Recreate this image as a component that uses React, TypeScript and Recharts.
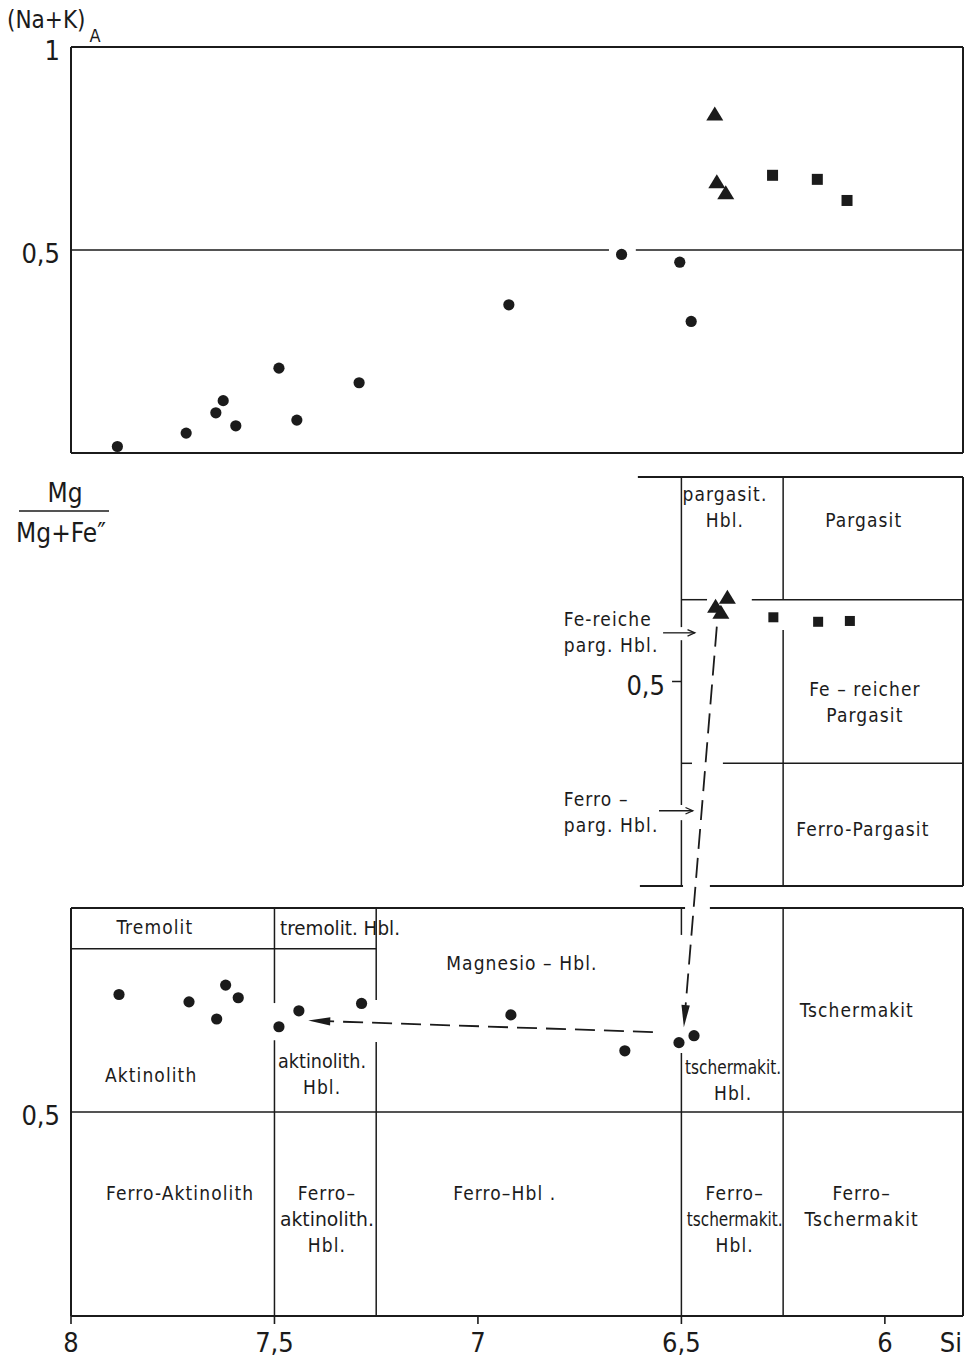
import React from 'react';
import { ScatterChart, Scatter, XAxis, YAxis, ReferenceLine, ReferenceDot } from 'recharts';

const FONT = "'DejaVu Sans Condensed', 'Liberation Sans Narrow', 'DejaVu Sans', sans-serif";
const INK = '#1b1b1b';

// ---- x axis (Si per formula unit) ----
const siTicks = [8, 7.5, 7, 6.5, 6];
const SI_MIN = 5.808;
const SI_MAX = 8;

// ---- y tick labels ----
const topYTicks = [1, 0.5];
const midYTicks = [0.5];
const botYTicks = [0.5];

// ---- top panel: (Na+K)_A ----
const topCircleSi = [7.886, 7.717, 7.644, 7.626, 7.595, 7.489, 7.445, 7.292, 6.924, 6.647, 6.504, 6.476];
const topCircleNaK = [0.016, 0.049, 0.099, 0.129, 0.067, 0.209, 0.081, 0.173, 0.365, 0.489, 0.470, 0.324];
const topTriSi = [6.418, 6.413, 6.391];
const topTriNaK = [0.834, 0.667, 0.640];
const topSqSi = [6.276, 6.166, 6.093];
const topSqNaK = [0.684, 0.674, 0.622];

// ---- middle panel: Mg/(Mg+Fe'') pargasite field ----
const midTriSi = [6.387, 6.416, 6.403];
const midTriMg = [0.705, 0.683, 0.668];
const midSqSi = [6.274, 6.164, 6.086];
const midSqMg = [0.657, 0.646, 0.648];

// ---- bottom panel: Mg/(Mg+Fe'') ----
const botCircleSi = [7.882, 7.710, 7.620, 7.589, 7.642, 7.489, 7.440, 7.286, 6.919, 6.639, 6.506, 6.469];
const botCircleMg = [0.788, 0.770, 0.811, 0.780, 0.728, 0.709, 0.748, 0.766, 0.738, 0.650, 0.670, 0.687];

// axis domains (three panels stacked in one plot area)
const TOP_DOMAIN = [-2.1256, 1];
const MID_DOMAIN = [-1.0513, 2.0513];
const BOT_DOMAIN = [0, 3.1103];

const zip = (xs: number[], ys: number[]) => xs.map((si, i) => ({ si, v: ys[i] }));

// field boundaries: [axis, si1, v1, si2, v2, width]
const boundaries: [string, number, number, number, number, number][] = [
  // top panel
  ['t', SI_MAX, 1, SI_MIN, 1, 2],
  ['t', SI_MAX, 0, SI_MIN, 0, 2],
  ['t', SI_MAX, 0, SI_MAX, 1, 2],
  ['t', SI_MIN, 0, SI_MIN, 1, 2],
  ['t', SI_MAX, 0.5, 6.678, 0.5, 1.5],
  ['t', 6.612, 0.5, SI_MIN, 0.5, 1.5],
  // middle panel
  ['m', 6.607, 1, SI_MIN, 1, 2],
  ['m', 6.602, 0, 6.496, 0, 2],
  ['m', 6.43, 0, SI_MIN, 0, 2],
  ['m', SI_MIN, 0, SI_MIN, 1, 2],
  ['m', 6.5, 1, 6.5, 0.633, 1.5],
  ['m', 6.5, 0.601, 6.5, 0.198, 1.5],
  ['m', 6.5, 0.161, 6.5, 0, 1.5],
  ['m', 6.5, 0.7, 6.437, 0.7, 1.5],
  ['m', 6.327, 0.7, SI_MIN, 0.7, 1.5],
  ['m', 6.5, 0.3, 6.474, 0.3, 1.5],
  ['m', 6.398, 0.3, SI_MIN, 0.3, 1.5],
  ['m', 6.25, 1, 6.25, 0.7, 1.5],
  ['m', 6.25, 0.626, 6.25, 0, 1.5],
  ['m', 6.523, 0.5, 6.5, 0.5, 1.5],
  // bottom panel
  ['b', SI_MAX, 1, 6.491, 1, 2],
  ['b', 6.43, 1, SI_MIN, 1, 2],
  ['b', SI_MAX, 0, SI_MAX, 1, 2],
  ['b', SI_MIN, 0, SI_MIN, 1, 2],
  ['b', SI_MAX, 0.9, 7.25, 0.9, 1.5],
  ['b', 7.5, 1, 7.5, 0.767, 1.5],
  ['b', 7.5, 0.676, 7.5, 0, 1.5],
  ['b', 7.25, 1, 7.25, 0.7745, 1.5],
  ['b', 7.25, 0.6716, 7.25, 0, 1.5],
  ['b', 6.5, 1, 6.5, 0.934, 1.5],
  ['b', 6.5, 0.6446, 6.5, 0, 1.5],
  ['b', 6.25, 1, 6.25, 0, 1.5],
  ['b', SI_MAX, 0.5, SI_MIN, 0.5, 1.5],
];

// dashed trend arrows (bottom axis units)
const trendArrows: [number, number, number, number][] = [
  [6.413, 1.6895, 6.494, 0.708],
  [6.57, 0.696, 7.417, 0.724],
];
// small pointer arrows (middle axis units)
const pointerArrows: [number, number, number, number][] = [
  [6.545, 0.619, 6.467, 0.619],
  [6.555, 0.184, 6.472, 0.184],
];

type Lab = { ax: string; si: number; v: number; t: string[]; anchor?: string; fit?: (number | undefined)[] };
const fieldLabels: Lab[] = [
  { ax: 'b', si: 7.794, v: 0.953, t: ['Tremolit'] },
  { ax: 'b', si: 7.339, v: 0.951, t: ['tremolit. Hbl.'], fit: [120] },
  { ax: 'b', si: 6.892, v: 0.865, t: ['Magnesio – Hbl.'] },
  { ax: 'b', si: 6.069, v: 0.75, t: ['Tschermakit'] },
  { ax: 'b', si: 7.803, v: 0.591, t: ['Aktinolith'] },
  { ax: 'b', si: 7.383, v: 0.593, t: ['aktinolith.', 'Hbl.'], fit: [88] },
  { ax: 'b', si: 6.373, v: 0.578, t: ['tschermakit.', 'Hbl.'], fit: [96] },
  { ax: 'b', si: 7.732, v: 0.3015, t: ['Ferro-Aktinolith'] },
  { ax: 'b', si: 7.371, v: 0.2377, t: ['Ferro–', 'aktinolith.', 'Hbl.'], fit: [undefined, 94] },
  { ax: 'b', si: 6.934, v: 0.3015, t: ['Ferro–Hbl .'] },
  { ax: 'b', si: 6.369, v: 0.2377, t: ['Ferro–', 'tschermakit.', 'Hbl.'], fit: [undefined, 96] },
  { ax: 'b', si: 6.057, v: 0.2696, t: ['Ferro–', 'Tschermakit'] },
  { ax: 'm', si: 6.393, v: 0.9267, t: ['pargasit.', 'Hbl.'] },
  { ax: 'm', si: 6.052, v: 0.895, t: ['Pargasit'] },
  { ax: 'm', si: 6.049, v: 0.45, t: ['Fe – reicher', 'Pargasit'] },
  { ax: 'm', si: 6.054, v: 0.139, t: ['Ferro-Pargasit'] },
  { ax: 'm', si: 6.789, v: 0.621, t: ['Fe-reiche', 'parg. Hbl.'], anchor: 'start' },
  { ax: 'm', si: 6.789, v: 0.181, t: ['Ferro –', 'parg. Hbl.'], anchor: 'start' },
];

const fmt = (n: number) => String(n).replace('.', ',');

const Dot = (p: any) => <circle cx={p.cx} cy={p.cy} r={5.6} fill={INK} />;
const Tri = (p: any) => (
  <polygon points={`${p.cx},${p.cy - 8} ${p.cx - 8.5},${p.cy + 6} ${p.cx + 8.5},${p.cy + 6}`} fill={INK} />
);
const Sq = (p: any) => <rect x={p.cx - 5.5} y={p.cy - 5.5} width={11} height={11} fill={INK} />;
const SqS = (p: any) => <rect x={p.cx - 5} y={p.cy - 5} width={10} height={10} fill={INK} />;

const DashArrow = (p: any) => {
  const dx = p.x2 - p.x1, dy = p.y2 - p.y1;
  const L = Math.hypot(dx, dy) || 1;
  const ux = dx / L, uy = dy / L;
  const head = 22, hw = 4.2;
  const bx = p.x2 - ux * head, by = p.y2 - uy * head;
  return (
    <g>
      <line x1={p.x1} y1={p.y1} x2={bx + ux * 4} y2={by + uy * 4} stroke={INK} strokeWidth={1.8} strokeDasharray="20 9" />
      <polygon points={`${p.x2},${p.y2} ${bx - uy * hw},${by + ux * hw} ${bx + uy * hw},${by - ux * hw}`} fill={INK} />
    </g>
  );
};

const PointerArrow = (p: any) => {
  const dx = p.x2 - p.x1, dy = p.y2 - p.y1;
  const L = Math.hypot(dx, dy) || 1;
  const ux = dx / L, uy = dy / L;
  const bl = 8, a = 0.42;
  const c = Math.cos(a), s = Math.sin(a);
  const r1x = -(ux * c - uy * s) * bl, r1y = -(ux * s + uy * c) * bl;
  const r2x = -(ux * c + uy * s) * bl, r2y = -(-ux * s + uy * c) * bl;
  return (
    <g stroke={INK} strokeWidth={1.3} fill="none">
      <line x1={p.x1} y1={p.y1} x2={p.x2} y2={p.y2} />
      <polyline points={`${p.x2 + r1x},${p.y2 + r1y} ${p.x2},${p.y2} ${p.x2 + r2x},${p.y2 + r2y}`} />
    </g>
  );
};

const MultiText = ({ cx, cy, lines, anchor, fit }: any) => {
  const lh = 26;
  const first = cy - ((lines.length - 1) * lh) / 2 + 7;
  return (
    <text x={cx} y={first} textAnchor={anchor || 'middle'} fontSize={19} letterSpacing={1.1} fontFamily={FONT} fill={INK}>
      {lines.map((l: string, i: number) => {
        const w = fit ? fit[i] : undefined;
        return w ? (
          <tspan key={i} x={cx} y={first + i * lh} textLength={w} lengthAdjust="spacingAndGlyphs" letterSpacing={0}>{l}</tspan>
        ) : (
          <tspan key={i} x={cx} y={first + i * lh}>{l}</tspan>
        );
      })}
    </text>
  );
};

const XTick = (p: any) => (
  <text x={p.x} y={p.y + 28} textAnchor="middle" fontSize={27} fontFamily={FONT} fill={INK}>
    {fmt(p.payload.value)}
  </text>
);

const yTickLabel = (key: string, axis: string, si: number, v: number, gap: number) => (
  <ReferenceDot key={key} yAxisId={axis} x={si} y={v} r={0}
    shape={(p: any) => (
      <text x={p.cx - gap} y={p.cy + 13} textAnchor="end" fontSize={27} fontFamily={FONT} fill={INK}>{fmt(v)}</text>
    )} />
);

export default function App() {
  return (
    <div style={{ position: 'absolute', left: 0, top: 0, width: 966, height: 1357, background: '#fff' }}>
      <ScatterChart width={966} height={1357} margin={{ top: 47, right: 3, bottom: 1, left: 71 }}>
        <XAxis
          type="number"
          dataKey="si"
          domain={[SI_MIN, SI_MAX]}
          reversed
          allowDataOverflow
          ticks={siTicks}
          height={40}
          tickSize={8}
          tickMargin={0}
          axisLine={{ stroke: INK, strokeWidth: 2 }}
          tickLine={{ stroke: INK, strokeWidth: 1.6 }}
          tick={<XTick />}
          interval={0}
        />
        <YAxis yAxisId="t" type="number" dataKey="v" domain={TOP_DOMAIN} allowDataOverflow width={0}
          tick={false} axisLine={false} tickLine={false} />
        <YAxis yAxisId="m" type="number" dataKey="v" domain={MID_DOMAIN} allowDataOverflow width={0}
          tick={false} axisLine={false} tickLine={false} />
        <YAxis yAxisId="b" type="number" dataKey="v" domain={BOT_DOMAIN} allowDataOverflow width={0}
          tick={false} axisLine={false} tickLine={false} />

        {boundaries.map(([ax, s1, v1, s2, v2, w], i) => (
          <ReferenceLine key={'b' + i} yAxisId={ax} segment={[{ x: s1, y: v1 }, { x: s2, y: v2 }]}
            stroke={INK} strokeWidth={w} />
        ))}

        {trendArrows.map(([s1, v1, s2, v2], i) => (
          <ReferenceLine key={'ta' + i} yAxisId="b" segment={[{ x: s1, y: v1 }, { x: s2, y: v2 }]}
            stroke={INK} shape={(p: any) => <DashArrow {...p} />} />
        ))}
        {pointerArrows.map(([s1, v1, s2, v2], i) => (
          <ReferenceLine key={'pa' + i} yAxisId="m" segment={[{ x: s1, y: v1 }, { x: s2, y: v2 }]}
            stroke={INK} shape={(p: any) => <PointerArrow {...p} />} />
        ))}

        {fieldLabels.map((l, i) => (
          <ReferenceDot key={'l' + i} yAxisId={l.ax} x={l.si} y={l.v} r={0}
            shape={(p: any) => <MultiText cx={p.cx} cy={p.cy} lines={l.t} anchor={l.anchor} fit={l.fit} />} />
        ))}

        {/* y tick labels */}
        {topYTicks.map((v, i) => yTickLabel('ty' + i, 't', SI_MAX, v, 11))}
        {botYTicks.map((v, i) => yTickLabel('by' + i, 'b', SI_MAX, v, 11))}
        {midYTicks.map((v, i) => yTickLabel('my' + i, 'm', 6.523, v, 7))}

        {/* axis titles */}
        <ReferenceDot yAxisId="t" x={SI_MAX} y={1} r={0}
          shape={(p: any) => (
            <text x={p.cx - 64} y={p.cy - 19} fontFamily={FONT} fill={INK} fontSize={24}>
              (Na+K)<tspan dx={4} dy={14} fontSize={18}>A</tspan>
            </text>
          )} />
        <ReferenceDot yAxisId="m" x={SI_MAX} y={1} r={0}
          shape={(p: any) => (
            <g fontFamily={FONT} fill={INK}>
              <text x={p.cx - 6} y={p.cy + 25} fontSize={26} textAnchor="middle">Mg</text>
              <line x1={p.cx - 52} y1={p.cy + 34} x2={p.cx + 38} y2={p.cy + 34} stroke={INK} strokeWidth={1.6} />
              <text x={p.cx - 10} y={p.cy + 65} fontSize={26} textAnchor="middle">Mg+Fe″</text>
            </g>
          )} />
        <ReferenceDot yAxisId="b" x={SI_MIN} y={0} r={0}
          shape={(p: any) => (
            <text x={p.cx - 1} y={p.cy + 36} textAnchor="end" fontSize={27} fontFamily={FONT} fill={INK}>Si</text>
          )} />

        <Scatter yAxisId="t" data={zip(topCircleSi, topCircleNaK)} shape={Dot} isAnimationActive={false} />
        <Scatter yAxisId="t" data={zip(topTriSi, topTriNaK)} shape={Tri} isAnimationActive={false} />
        <Scatter yAxisId="t" data={zip(topSqSi, topSqNaK)} shape={Sq} isAnimationActive={false} />
        <Scatter yAxisId="m" data={zip(midTriSi, midTriMg)} shape={Tri} isAnimationActive={false} />
        <Scatter yAxisId="m" data={zip(midSqSi, midSqMg)} shape={SqS} isAnimationActive={false} />
        <Scatter yAxisId="b" data={zip(botCircleSi, botCircleMg)} shape={Dot} isAnimationActive={false} />
      </ScatterChart>
    </div>
  );
}
